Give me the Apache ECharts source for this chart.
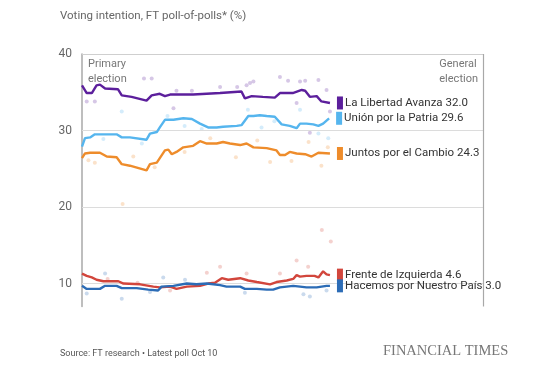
<!DOCTYPE html>
<html><head><meta charset="utf-8">
<script src="https://cdn.jsdelivr.net/npm/echarts@6/dist/echarts.min.js"></script>
<style>html,body{margin:0;padding:0;background:#fff}#c{width:540px;height:377px}</style>
</head><body><div id="c"></div>
<script>
// Days since the primary election (Aug 13); general election on day ~94
const electionDay = 93.8;
const yTicks = [10, 20, 30, 40];

const names = ['La Libertad Avanza', 'Unión por la Patria', 'Juntos por el Cambio', 'Frente de Izquierda', 'Hacemos por Nuestro País'];
const latest = ['32.0', '29.6', '24.3', '4.6', '3.0'];
const colors = ['#5c1f9c', '#55b5ee', '#ee8c2b', '#d2463c', '#2c6cb6'];

// Poll-of-polls lines
const llaDays = [0,1.1,2.3,3.4,4.2,5.4,8.4,9.3,11.6,15.1,16.3,18.2,19.4,20.6,26,32.3,37.3,38.1,39.7,42.3,45.1,46.3,49.3,51.4,52.2,53.3,54.9,56,58];
const llaVals = [35.9,34.9,34.9,35.9,36.0,35.5,35.4,34.6,34.4,33.9,34.6,34.8,34.5,34.7,34.7,34.9,35.1,34.2,34.5,34.4,34.3,34.9,34.9,35.3,35.2,34.4,34.5,33.8,33.6];

const uxpDays = [0,0.7,1.9,3.0,4.2,8.1,9.3,11.2,15.1,15.9,17.5,18.2,19.4,21.4,23.7,25.7,27.6,29.5,31.5,33.0,36.2,37.3,38.9,40.1,41.6,43.2,45.1,46.7,48.6,50.2,51.0,52.5,54.1,55.3,56.4,57.8];
const uxpVals = [27.9,29.0,29.1,29.5,29.5,29.5,29.1,29.1,28.8,29.6,29.8,30.4,31.4,31.4,31.6,31.5,30.9,30.4,30.4,30.5,30.6,30.7,31.9,31.9,32.0,31.9,31.8,30.8,30.6,30.3,30.9,30.9,30.8,30.6,30.9,31.6];

const jxcDays = [0,0.7,1.9,4.2,5.8,8.1,9.3,11.2,15.1,15.9,17.5,18.2,19.4,20.2,21.0,22.1,23.7,26.0,27.6,29.2,31.5,33.0,34.6,37.0,38.5,40.1,43.2,45.5,46.3,47.5,48.6,50.2,52.2,53.7,55.3,58];
const jxcVals = [26.4,27.0,27.1,27.1,26.6,26.5,25.6,25.4,24.8,25.6,25.8,26.4,27.4,27.5,26.9,27.2,27.8,28.0,28.6,28.3,28.3,28.5,28.3,28.1,28.3,27.8,27.7,27.4,26.8,26.8,27.2,27.0,26.9,26.6,27.1,27.0];

const fitDays = [0,1.1,2.3,3.4,5.0,8.5,9.7,13.6,16.7,18.2,20.6,22.1,24.5,27.6,29.5,31.1,32.7,34.2,37.0,38.9,40.9,44.0,45.5,47.9,49.4,50.2,51.0,52.5,54.4,55.3,56.4,57.2,58];
const fitVals = [11.3,11.0,10.8,10.5,10.3,10.3,10.0,9.9,9.6,9.5,9.6,9.3,9.6,9.7,10.0,10.1,10.7,10.5,10.7,10.4,10.2,9.9,10.2,10.4,10.6,11.1,10.9,11.0,11.0,10.8,11.6,11.2,11.1];

const hnpDays = [0,1.1,4.2,5.4,8.1,9.3,12.8,15.5,17.8,18.6,21.4,24.5,26.8,29.2,32.3,33.8,37.0,38.1,40.9,43.2,44.7,46.3,49.4,51.0,52.5,54.9,57.2,58];
const hnpVals = [9.7,9.3,9.3,9.7,9.7,9.4,9.4,9.2,9.1,9.6,9.7,10.0,9.9,10.0,9.8,9.6,9.6,9.3,9.3,9.2,9.2,9.5,9.7,9.6,9.5,9.5,9.7,9.7];

// Individual polls (faint dots)
const llaPollDays = [1.1,3,16.3,21.4,22.1,32.3,38.5,39.3,40.1,46.3,51,55.3,57.2,50.2,53.3,58,14.5,25.7,36.3,48.2,52.2];
const llaPollVals = [33.8,33.8,36.8,32.9,35.2,35.7,35.9,36.2,36.4,37.0,36.4,36.6,35.3,33.6,29.7,32.5,36.8,35.2,35.7,36.5,36.5];
const uxpPollDays = [9.3,20,28,38.8,45,51,55.3,57.6,5,14,24,42];
const uxpPollVals = [32.5,31.9,30.2,32.7,31.2,32.7,29.6,29.0,28.9,28.3,30.6,30.4];
const jxcPollDays = [9.5,3,12,24,30,36,41,44,49,53,56,57.5,17,1.5];
const jxcPollVals = [20.4,25.8,26.6,27.2,29.0,26.5,28.7,25.9,26.0,28.5,25.4,27.8,25.2,26.1];
const fitPollDays = [29.2,32.3,38.5,50.2,52.9,56.1,58.2,46.3,20.6,6,13];
const fitPollVals = [11.4,12.2,11.3,13.0,12.2,17.0,15.5,11.3,9.1,10.6,10.1];
const hnpPollDays = [1.1,5.4,9.3,19,24.1,38.1,51.8,53.3,57.2,15.9];
const hnpPollVals = [8.7,11.3,8.0,10.8,10.5,8.8,8.6,8.3,9.1,8.9];

const lineDays = [llaDays, uxpDays, jxcDays, fitDays, hnpDays];
const lineVals = [llaVals, uxpVals, jxcVals, fitVals, hnpVals];
const pollDays = [llaPollDays, uxpPollDays, jxcPollDays, fitPollDays, hnpPollDays];
const pollVals = [llaPollVals, uxpPollVals, jxcPollVals, fitPollVals, hnpPollVals];

const zip = (a, b) => a.map((d, i) => [d, b[i]]);

const series = [];
// gridlines + election line
series.push({
  type: 'line', data: [], silent: true,
  markLine: {
    silent: true, symbol: 'none', label: {show: false}, animation: false,
    data: yTicks.map(v => ({yAxis: v, lineStyle: {color: v === 40 ? '#cfcfcf' : '#dcdcdc', width: 1, type: 'solid'}}))
      .concat([{xAxis: electionDay, lineStyle: {color: '#a8a8a8', width: 1.2, type: 'solid'}}])
  }
});
for (let i = 0; i < 5; i++) {
  series.push({
    type: 'scatter', data: zip(pollDays[i], pollVals[i]), symbolSize: 4, silent: true,
    itemStyle: {color: colors[i], opacity: 0.25}, z: 2
  });
}
for (let i = 0; i < 5; i++) {
  series.push({
    type: 'line', name: names[i], data: zip(lineDays[i], lineVals[i]), showSymbol: false,
    lineStyle: {color: colors[i], width: 2.4}, z: 5,
    endLabel: {
      show: true, distance: 7,
      formatter: '{b|}{t|' + names[i] + ' ' + latest[i] + '}',
      rich: {
        b: {backgroundColor: colors[i], width: 6, height: 13},
        t: {fontFamily: 'Roboto', fontSize: 11.5, color: '#333', padding: [0, 0, 0, 2]}
      }
    }
  });
}

const chart = echarts.init(document.getElementById('c'), null, {renderer: 'canvas'});
chart.setOption({
  animation: false,
  backgroundColor: '#fff',
  grid: {left: 82, top: 54, width: 401, height: 252.5},
  xAxis: {type: 'value', min: 0, max: electionDay, show: false},
  yAxis: {
    type: 'value', min: 7, max: 40,
    axisLine: {show: true, lineStyle: {color: '#a8a8a8', width: 1.5}},
    axisTick: {show: false},
    splitLine: {show: false},
    axisLabel: {customValues: yTicks, color: '#666', fontSize: 12, fontFamily: 'Roboto', margin: 10}
  },
  graphic: [
    {type: 'text', left: 60, top: 10, style: {text: 'Voting intention, FT poll-of-polls* (%)', fill: '#666', fontSize: 11.5, fontFamily: 'Roboto'}},
    {type: 'text', left: 88, top: 57, style: {text: 'Primary\nelection', fill: '#777', fontSize: 11, lineHeight: 15, fontFamily: 'Roboto'}},
    {type: 'text', right: 62, top: 57, style: {text: 'General\nelection', fill: '#777', fontSize: 11, lineHeight: 15, align: 'right', fontFamily: 'Roboto'}},
    {type: 'text', left: 60, top: 349, style: {text: 'Source: FT research \u2022 Latest poll Oct 10', fill: '#555', fontSize: 9, fontFamily: 'Roboto'}},
    {type: 'text', left: 383, top: 344, style: {text: 'FINANCIAL TIMES', fill: '#777', fontSize: 14.5, fontFamily: 'Liberation Serif'}}
  ],
  series: series
});
</script>
</body></html>
